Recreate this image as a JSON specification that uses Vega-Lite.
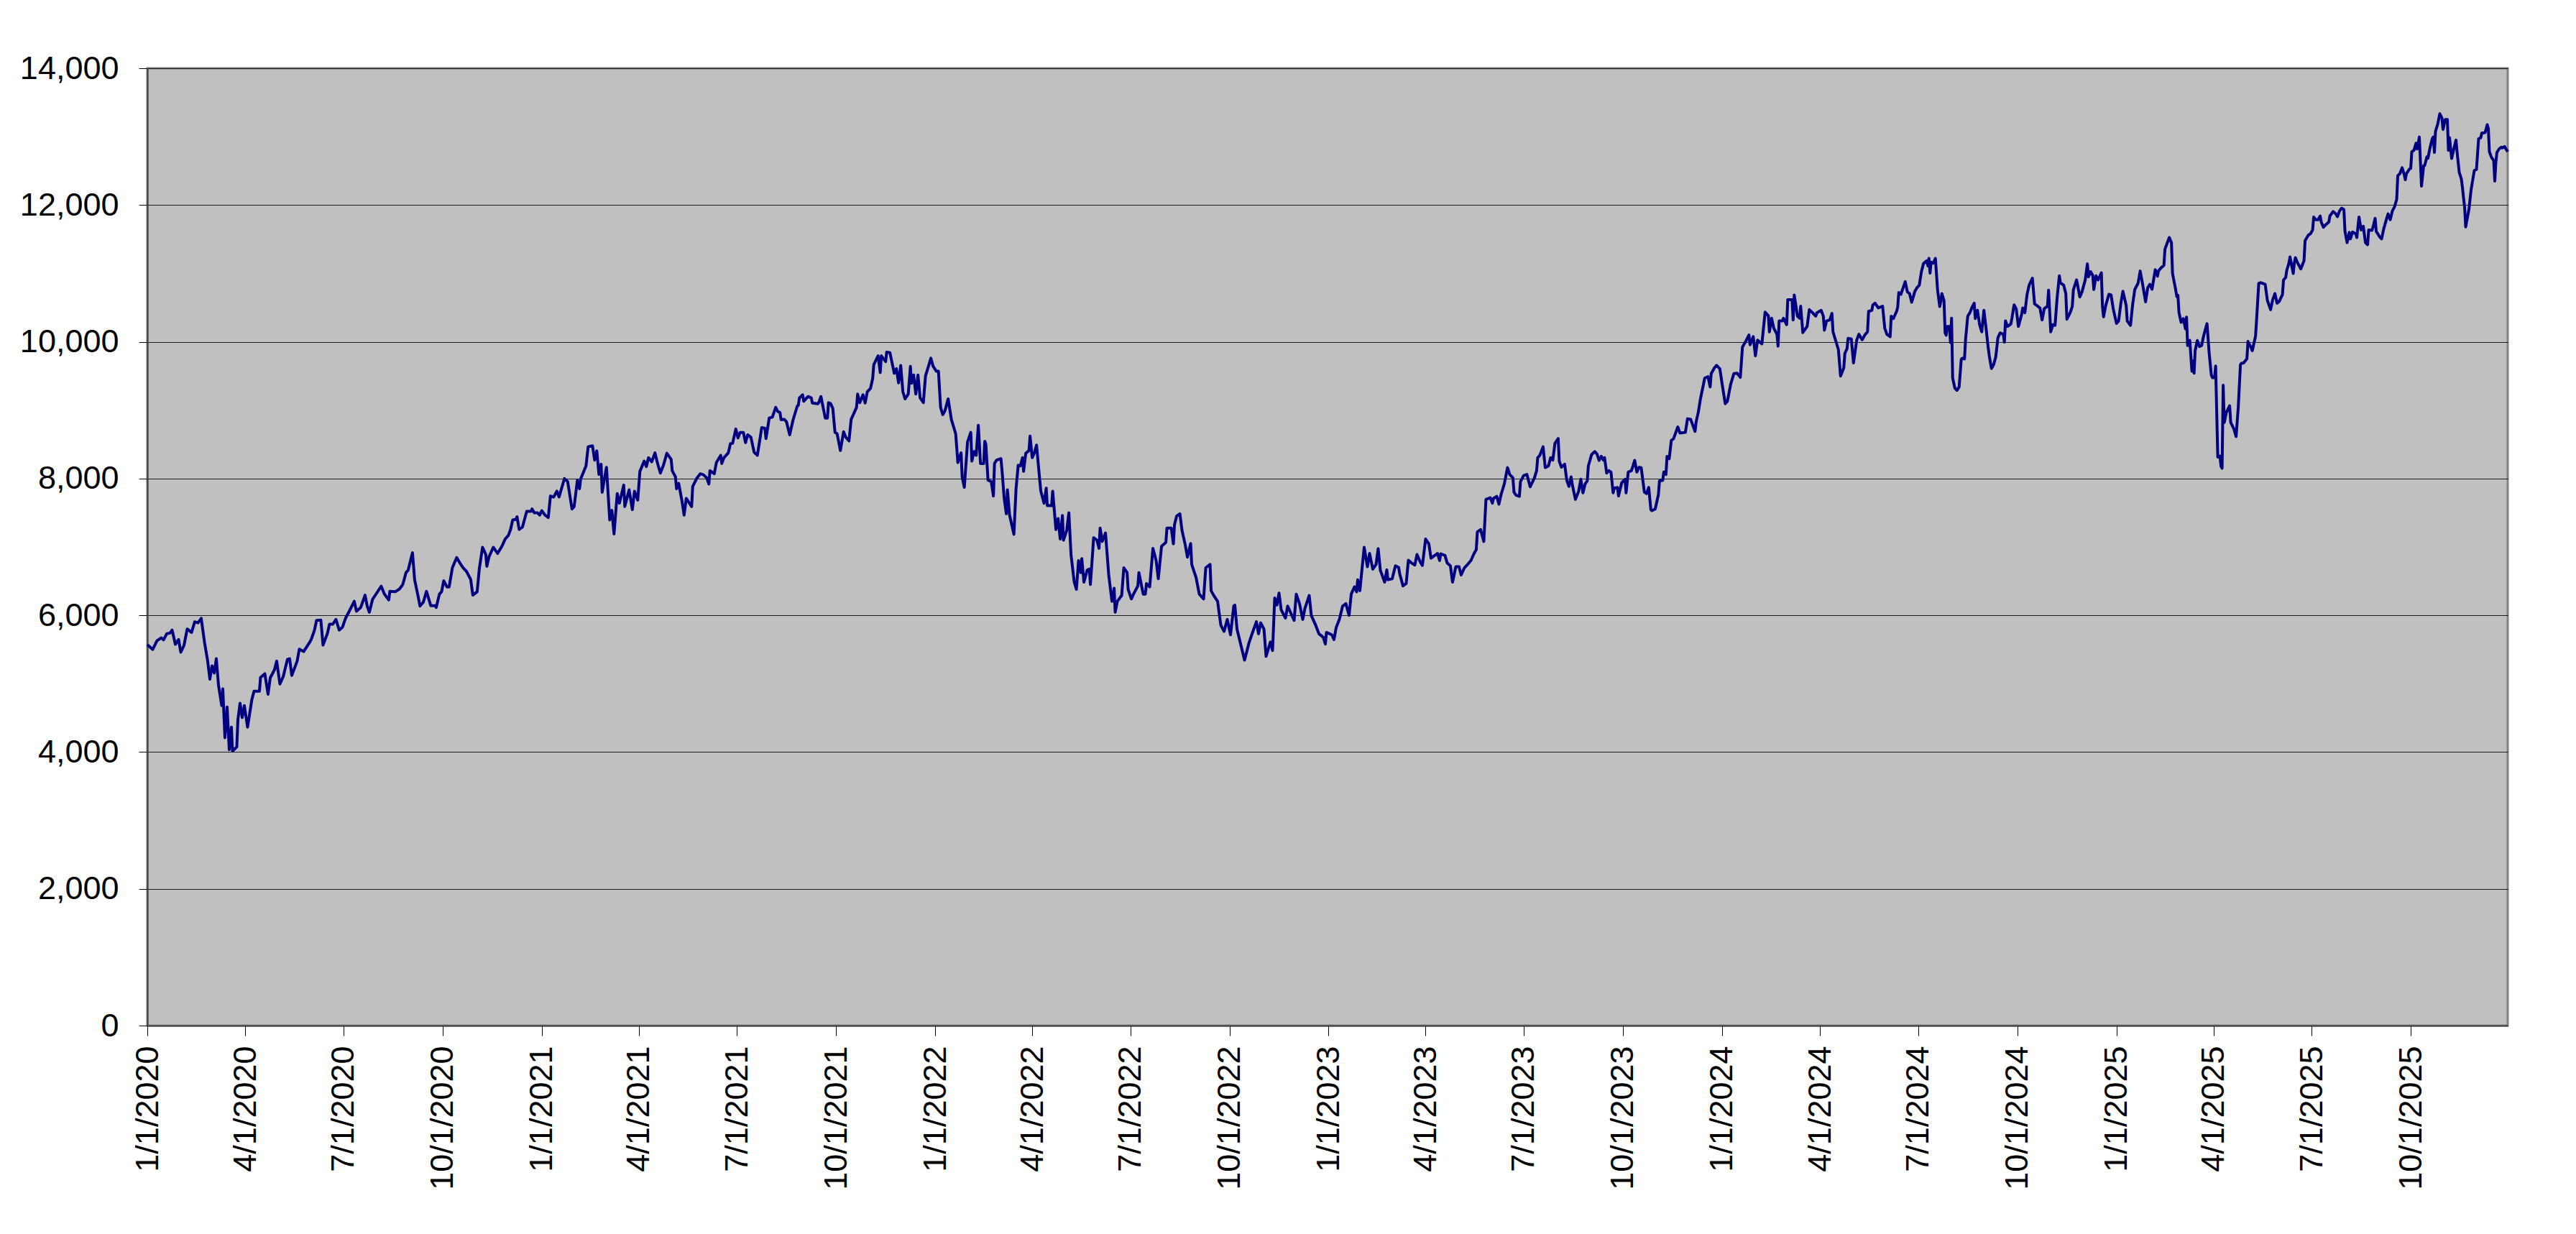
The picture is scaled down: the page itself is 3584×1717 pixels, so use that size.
{
"$schema": "https://vega.github.io/schema/vega-lite/v6.json",
"autosize": {"type": "none"},
"width": 3284,
"height": 1332,
"padding": {"left": 205, "top": 95, "right": 95, "bottom": 290},
"background": "#ffffff",
"config": {"view": {"fill": "#C0C0C0", "stroke": "#808080", "strokeWidth": 3}, "font": "Liberation Sans"},
"data": {"values": [
{"date":"2020-01-01","value":5570},{"date":"2020-01-06","value":5500},{"date":"2020-01-10","value":5630},{"date":"2020-01-14","value":5670},{"date":"2020-01-16","value":5640},{"date":"2020-01-19","value":5730},{"date":"2020-01-22","value":5740},{"date":"2020-01-24","value":5785},{"date":"2020-01-27","value":5575},{"date":"2020-01-30","value":5645},{"date":"2020-02-01","value":5460},{"date":"2020-02-04","value":5560},{"date":"2020-02-07","value":5800},{"date":"2020-02-11","value":5750},{"date":"2020-02-14","value":5905},{"date":"2020-02-17","value":5890},{"date":"2020-02-20","value":5955},{"date":"2020-02-23","value":5610},{"date":"2020-02-26","value":5330},{"date":"2020-02-28","value":5065},{"date":"2020-03-01","value":5260},{"date":"2020-03-03","value":5155},{"date":"2020-03-05","value":5365},{"date":"2020-03-07","value":4980},{"date":"2020-03-10","value":4680},{"date":"2020-03-11","value":4925},{"date":"2020-03-13","value":4210},{"date":"2020-03-15","value":4660},{"date":"2020-03-17","value":4035},{"date":"2020-03-19","value":4365},{"date":"2020-03-20","value":4015},{"date":"2020-03-24","value":4075},{"date":"2020-03-25","value":4470},{"date":"2020-03-27","value":4715},{"date":"2020-03-29","value":4505},{"date":"2020-03-31","value":4680},{"date":"2020-04-03","value":4365},{"date":"2020-04-07","value":4770},{"date":"2020-04-09","value":4890},{"date":"2020-04-14","value":4890},{"date":"2020-04-15","value":5090},{"date":"2020-04-19","value":5145},{"date":"2020-04-22","value":4845},{"date":"2020-04-24","value":5085},{"date":"2020-04-28","value":5205},{"date":"2020-04-30","value":5330},{"date":"2020-05-03","value":4995},{"date":"2020-05-06","value":5100},{"date":"2020-05-10","value":5355},{"date":"2020-05-12","value":5365},{"date":"2020-05-14","value":5120},{"date":"2020-05-19","value":5330},{"date":"2020-05-21","value":5505},{"date":"2020-05-25","value":5470},{"date":"2020-05-30","value":5590},{"date":"2020-06-01","value":5645},{"date":"2020-06-04","value":5780},{"date":"2020-06-06","value":5925},{"date":"2020-06-10","value":5930},{"date":"2020-06-12","value":5565},{"date":"2020-06-16","value":5730},{"date":"2020-06-18","value":5870},{"date":"2020-06-21","value":5870},{"date":"2020-06-24","value":5940},{"date":"2020-06-27","value":5785},{"date":"2020-06-30","value":5825},{"date":"2020-07-03","value":5960},{"date":"2020-07-07","value":6080},{"date":"2020-07-11","value":6205},{"date":"2020-07-13","value":6060},{"date":"2020-07-17","value":6115},{"date":"2020-07-21","value":6295},{"date":"2020-07-23","value":6135},{"date":"2020-07-25","value":6045},{"date":"2020-07-28","value":6235},{"date":"2020-08-01","value":6330},{"date":"2020-08-05","value":6425},{"date":"2020-08-08","value":6310},{"date":"2020-08-12","value":6225},{"date":"2020-08-13","value":6350},{"date":"2020-08-18","value":6345},{"date":"2020-08-22","value":6385},{"date":"2020-08-25","value":6450},{"date":"2020-08-28","value":6625},{"date":"2020-08-30","value":6660},{"date":"2020-09-03","value":6915},{"date":"2020-09-05","value":6520},{"date":"2020-09-08","value":6295},{"date":"2020-09-10","value":6135},{"date":"2020-09-13","value":6190},{"date":"2020-09-16","value":6350},{"date":"2020-09-20","value":6140},{"date":"2020-09-24","value":6140},{"date":"2020-09-25","value":6115},{"date":"2020-09-28","value":6310},{"date":"2020-09-30","value":6345},{"date":"2020-10-02","value":6505},{"date":"2020-10-05","value":6415},{"date":"2020-10-07","value":6415},{"date":"2020-10-10","value":6695},{"date":"2020-10-14","value":6845},{"date":"2020-10-17","value":6765},{"date":"2020-10-20","value":6695},{"date":"2020-10-23","value":6645},{"date":"2020-10-27","value":6525},{"date":"2020-10-29","value":6295},{"date":"2020-11-02","value":6345},{"date":"2020-11-04","value":6680},{"date":"2020-11-07","value":6995},{"date":"2020-11-10","value":6890},{"date":"2020-11-11","value":6715},{"date":"2020-11-13","value":6855},{"date":"2020-11-17","value":6995},{"date":"2020-11-21","value":6905},{"date":"2020-11-25","value":7010},{"date":"2020-11-28","value":7115},{"date":"2020-12-01","value":7170},{"date":"2020-12-03","value":7255},{"date":"2020-12-05","value":7395},{"date":"2020-12-08","value":7405},{"date":"2020-12-09","value":7440},{"date":"2020-12-11","value":7255},{"date":"2020-12-14","value":7290},{"date":"2020-12-18","value":7520},{"date":"2020-12-22","value":7520},{"date":"2020-12-23","value":7555},{"date":"2020-12-25","value":7500},{"date":"2020-12-28","value":7500},{"date":"2020-12-30","value":7465},
{"date":"2021-01-01","value":7530},{"date":"2021-01-04","value":7465},{"date":"2021-01-07","value":7430},{"date":"2021-01-09","value":7745},{"date":"2021-01-12","value":7730},{"date":"2021-01-15","value":7815},{"date":"2021-01-17","value":7730},{"date":"2021-01-22","value":8000},{"date":"2021-01-25","value":7955},{"date":"2021-01-29","value":7555},{"date":"2021-01-31","value":7590},{"date":"2021-02-03","value":7975},{"date":"2021-02-05","value":7850},{"date":"2021-02-06","value":7990},{"date":"2021-02-11","value":8185},{"date":"2021-02-13","value":8465},{"date":"2021-02-17","value":8480},{"date":"2021-02-19","value":8270},{"date":"2021-02-21","value":8405},{"date":"2021-02-23","value":8060},{"date":"2021-02-25","value":8210},{"date":"2021-02-26","value":7800},{"date":"2021-02-28","value":7990},{"date":"2021-03-02","value":8165},{"date":"2021-03-05","value":7395},{"date":"2021-03-07","value":7535},{"date":"2021-03-09","value":7190},{"date":"2021-03-11","value":7590},{"date":"2021-03-12","value":7780},{"date":"2021-03-14","value":7640},{"date":"2021-03-18","value":7905},{"date":"2021-03-19","value":7590},{"date":"2021-03-23","value":7835},{"date":"2021-03-26","value":7545},{"date":"2021-03-28","value":7815},{"date":"2021-03-31","value":7685},{"date":"2021-04-02","value":8105},{"date":"2021-04-06","value":8255},{"date":"2021-04-08","value":8175},{"date":"2021-04-10","value":8305},{"date":"2021-04-13","value":8245},{"date":"2021-04-16","value":8375},{"date":"2021-04-18","value":8245},{"date":"2021-04-21","value":8080},{"date":"2021-04-24","value":8200},{"date":"2021-04-27","value":8370},{"date":"2021-05-01","value":8280},{"date":"2021-05-02","value":8115},{"date":"2021-05-05","value":8025},{"date":"2021-05-06","value":7850},{"date":"2021-05-08","value":7930},{"date":"2021-05-11","value":7675},{"date":"2021-05-13","value":7465},{"date":"2021-05-15","value":7710},{"date":"2021-05-20","value":7590},{"date":"2021-05-21","value":7885},{"date":"2021-05-25","value":8010},{"date":"2021-05-28","value":8070},{"date":"2021-05-31","value":8055},{"date":"2021-06-03","value":8010},{"date":"2021-06-05","value":7920},{"date":"2021-06-06","value":8115},{"date":"2021-06-10","value":8070},{"date":"2021-06-12","value":8235},{"date":"2021-06-16","value":8340},{"date":"2021-06-17","value":8220},{"date":"2021-06-19","value":8305},{"date":"2021-06-23","value":8375},{"date":"2021-06-25","value":8510},{"date":"2021-06-27","value":8515},{"date":"2021-06-30","value":8725},{"date":"2021-07-02","value":8595},{"date":"2021-07-04","value":8675},{"date":"2021-07-07","value":8675},{"date":"2021-07-09","value":8525},{"date":"2021-07-11","value":8640},{"date":"2021-07-14","value":8605},{"date":"2021-07-17","value":8385},{"date":"2021-07-20","value":8340},{"date":"2021-07-23","value":8640},{"date":"2021-07-24","value":8745},{"date":"2021-07-27","value":8735},{"date":"2021-07-28","value":8585},{"date":"2021-07-31","value":8885},{"date":"2021-08-03","value":8900},{"date":"2021-08-06","value":9040},{"date":"2021-08-08","value":8980},{"date":"2021-08-10","value":8965},{"date":"2021-08-11","value":8860},{"date":"2021-08-14","value":8865},{"date":"2021-08-16","value":8830},{"date":"2021-08-19","value":8640},{"date":"2021-08-22","value":8850},{"date":"2021-08-26","value":9060},{"date":"2021-08-27","value":9070},{"date":"2021-08-28","value":9180},{"date":"2021-08-31","value":9225},{"date":"2021-09-01","value":9130},{"date":"2021-09-05","value":9200},{"date":"2021-09-08","value":9180},{"date":"2021-09-09","value":9105},{"date":"2021-09-14","value":9095},{"date":"2021-09-15","value":9110},{"date":"2021-09-17","value":9200},{"date":"2021-09-19","value":9040},{"date":"2021-09-21","value":8885},{"date":"2021-09-23","value":8885},{"date":"2021-09-24","value":9110},{"date":"2021-09-26","value":9095},{"date":"2021-09-28","value":9025},{"date":"2021-09-30","value":8675},{"date":"2021-10-02","value":8655},{"date":"2021-10-05","value":8410},{"date":"2021-10-08","value":8685},{"date":"2021-10-10","value":8605},{"date":"2021-10-13","value":8550},{"date":"2021-10-15","value":8865},{"date":"2021-10-20","value":9040},{"date":"2021-10-21","value":9235},{"date":"2021-10-23","value":9110},{"date":"2021-10-26","value":9225},{"date":"2021-10-28","value":9105},{"date":"2021-10-30","value":9270},{"date":"2021-11-02","value":9320},{"date":"2021-11-04","value":9465},{"date":"2021-11-05","value":9665},{"date":"2021-11-09","value":9795},{"date":"2021-11-11","value":9550},{"date":"2021-11-12","value":9795},{"date":"2021-11-16","value":9710},{"date":"2021-11-17","value":9850},{"date":"2021-11-20","value":9840},{"date":"2021-11-22","value":9690},{"date":"2021-11-24","value":9540},{"date":"2021-11-26","value":9605},{"date":"2021-11-28","value":9400},{"date":"2021-11-30","value":9655},{"date":"2021-12-02","value":9270},{"date":"2021-12-04","value":9165},{"date":"2021-12-07","value":9235},{"date":"2021-12-09","value":9640},{"date":"2021-12-10","value":9395},{"date":"2021-12-12","value":9515},{"date":"2021-12-14","value":9235},{"date":"2021-12-16","value":9515},{"date":"2021-12-18","value":9180},{"date":"2021-12-21","value":9110},{"date":"2021-12-23","value":9500},{"date":"2021-12-26","value":9655},{"date":"2021-12-28","value":9760},{"date":"2021-12-30","value":9645},
{"date":"2022-01-02","value":9570},{"date":"2022-01-04","value":9570},{"date":"2022-01-06","value":9040},{"date":"2022-01-08","value":8935},{"date":"2022-01-10","value":8990},{"date":"2022-01-13","value":9165},{"date":"2022-01-16","value":8865},{"date":"2022-01-20","value":8655},{"date":"2022-01-22","value":8235},{"date":"2022-01-25","value":8375},{"date":"2022-01-26","value":8025},{"date":"2022-01-28","value":7870},{"date":"2022-01-31","value":8535},{"date":"2022-02-03","value":8675},{"date":"2022-02-04","value":8255},{"date":"2022-02-06","value":8395},{"date":"2022-02-08","value":8340},{"date":"2022-02-10","value":8780},{"date":"2022-02-12","value":8220},{"date":"2022-02-15","value":8220},{"date":"2022-02-16","value":8545},{"date":"2022-02-17","value":8500},{"date":"2022-02-19","value":7975},{"date":"2022-02-22","value":7955},{"date":"2022-02-24","value":7745},{"date":"2022-02-25","value":8220},{"date":"2022-02-27","value":8270},{"date":"2022-03-03","value":8290},{"date":"2022-03-04","value":8115},{"date":"2022-03-06","value":7710},{"date":"2022-03-08","value":7485},{"date":"2022-03-09","value":7835},{"date":"2022-03-11","value":7465},{"date":"2022-03-15","value":7185},{"date":"2022-03-17","value":7850},{"date":"2022-03-19","value":8195},{"date":"2022-03-21","value":8185},{"date":"2022-03-23","value":8305},{"date":"2022-03-24","value":8105},{"date":"2022-03-26","value":8370},{"date":"2022-03-29","value":8410},{"date":"2022-03-30","value":8620},{"date":"2022-04-01","value":8305},{"date":"2022-04-03","value":8375},{"date":"2022-04-05","value":8490},{"date":"2022-04-08","value":7975},{"date":"2022-04-09","value":7815},{"date":"2022-04-12","value":7640},{"date":"2022-04-14","value":7860},{"date":"2022-04-15","value":7605},{"date":"2022-04-19","value":7605},{"date":"2022-04-20","value":7815},{"date":"2022-04-23","value":7255},{"date":"2022-04-25","value":7415},{"date":"2022-04-27","value":7115},{"date":"2022-04-29","value":7460},{"date":"2022-04-30","value":7100},{"date":"2022-05-03","value":7240},{"date":"2022-05-05","value":7500},{"date":"2022-05-07","value":6890},{"date":"2022-05-10","value":6485},{"date":"2022-05-12","value":6380},{"date":"2022-05-14","value":6800},{"date":"2022-05-16","value":6625},{"date":"2022-05-17","value":6830},{"date":"2022-05-19","value":6485},{"date":"2022-05-22","value":6660},{"date":"2022-05-24","value":6675},{"date":"2022-05-25","value":6450},{"date":"2022-05-28","value":7135},{"date":"2022-05-31","value":7100},{"date":"2022-06-02","value":6980},{"date":"2022-06-03","value":7275},{"date":"2022-06-05","value":7080},{"date":"2022-06-08","value":7205},{"date":"2022-06-11","value":6590},{"date":"2022-06-14","value":6205},{"date":"2022-06-16","value":6395},{"date":"2022-06-17","value":6045},{"date":"2022-06-19","value":6205},{"date":"2022-06-23","value":6290},{"date":"2022-06-25","value":6695},{"date":"2022-06-28","value":6625},{"date":"2022-06-29","value":6380},{"date":"2022-07-02","value":6240},{"date":"2022-07-04","value":6310},{"date":"2022-07-08","value":6430},{"date":"2022-07-09","value":6625},{"date":"2022-07-13","value":6310},{"date":"2022-07-15","value":6310},{"date":"2022-07-16","value":6465},{"date":"2022-07-19","value":6415},{"date":"2022-07-22","value":6980},{"date":"2022-07-25","value":6800},{"date":"2022-07-27","value":6535},{"date":"2022-07-30","value":7010},{"date":"2022-08-03","value":7065},{"date":"2022-08-04","value":7275},{"date":"2022-08-08","value":7275},{"date":"2022-08-10","value":7045},{"date":"2022-08-11","value":7325},{"date":"2022-08-13","value":7450},{"date":"2022-08-16","value":7485},{"date":"2022-08-18","value":7240},{"date":"2022-08-21","value":7030},{"date":"2022-08-23","value":6850},{"date":"2022-08-26","value":7050},{"date":"2022-08-27","value":6745},{"date":"2022-08-31","value":6555},{"date":"2022-09-03","value":6310},{"date":"2022-09-07","value":6240},{"date":"2022-09-09","value":6695},{"date":"2022-09-13","value":6745},{"date":"2022-09-14","value":6360},{"date":"2022-09-17","value":6275},{"date":"2022-09-20","value":6205},{"date":"2022-09-23","value":5855},{"date":"2022-09-26","value":5765},{"date":"2022-09-29","value":5940},{"date":"2022-10-02","value":5715},{"date":"2022-10-05","value":6135},{"date":"2022-10-06","value":6150},{"date":"2022-10-08","value":5800},{"date":"2022-10-12","value":5540},{"date":"2022-10-15","value":5345},{"date":"2022-10-19","value":5590},{"date":"2022-10-22","value":5730},{"date":"2022-10-26","value":5905},{"date":"2022-10-28","value":5730},{"date":"2022-10-30","value":5890},{"date":"2022-11-02","value":5800},{"date":"2022-11-04","value":5400},{"date":"2022-11-08","value":5610},{"date":"2022-11-10","value":5485},{"date":"2022-11-12","value":6255},{"date":"2022-11-14","value":6150},{"date":"2022-11-16","value":6325},{"date":"2022-11-18","value":6080},{"date":"2022-11-22","value":5960},{"date":"2022-11-24","value":6135},{"date":"2022-11-30","value":5925},{"date":"2022-12-02","value":6310},{"date":"2022-12-05","value":6170},{"date":"2022-12-08","value":5940},{"date":"2022-12-10","value":6100},{"date":"2022-12-14","value":6290},{"date":"2022-12-16","value":5995},{"date":"2022-12-20","value":5855},{"date":"2022-12-23","value":5730},{"date":"2022-12-27","value":5680},{"date":"2022-12-29","value":5580},{"date":"2022-12-30","value":5750},
{"date":"2023-01-04","value":5715},{"date":"2023-01-06","value":5645},{"date":"2023-01-08","value":5820},{"date":"2023-01-11","value":5940},{"date":"2023-01-14","value":6135},{"date":"2023-01-17","value":6170},{"date":"2023-01-20","value":6000},{"date":"2023-01-22","value":6310},{"date":"2023-01-25","value":6415},{"date":"2023-01-27","value":6345},{"date":"2023-01-28","value":6520},{"date":"2023-01-30","value":6360},{"date":"2023-02-03","value":6995},{"date":"2023-02-06","value":6710},{"date":"2023-02-08","value":6905},{"date":"2023-02-11","value":6675},{"date":"2023-02-14","value":6745},{"date":"2023-02-16","value":6975},{"date":"2023-02-18","value":6660},{"date":"2023-02-22","value":6485},{"date":"2023-02-24","value":6665},{"date":"2023-02-25","value":6520},{"date":"2023-03-01","value":6535},{"date":"2023-03-04","value":6725},{"date":"2023-03-07","value":6700},{"date":"2023-03-08","value":6605},{"date":"2023-03-11","value":6430},{"date":"2023-03-14","value":6465},{"date":"2023-03-16","value":6805},{"date":"2023-03-19","value":6765},{"date":"2023-03-22","value":6735},{"date":"2023-03-24","value":6890},{"date":"2023-03-27","value":6780},{"date":"2023-03-29","value":6730},{"date":"2023-04-01","value":7115},{"date":"2023-04-04","value":7045},{"date":"2023-04-06","value":6835},{"date":"2023-04-09","value":6870},{"date":"2023-04-12","value":6905},{"date":"2023-04-14","value":6800},{"date":"2023-04-15","value":6900},{"date":"2023-04-19","value":6875},{"date":"2023-04-21","value":6765},{"date":"2023-04-24","value":6725},{"date":"2023-04-26","value":6485},{"date":"2023-04-29","value":6710},{"date":"2023-05-02","value":6710},{"date":"2023-05-04","value":6590},{"date":"2023-05-07","value":6695},{"date":"2023-05-10","value":6745},{"date":"2023-05-13","value":6800},{"date":"2023-05-16","value":6905},{"date":"2023-05-18","value":6960},{"date":"2023-05-19","value":7220},{"date":"2023-05-22","value":7255},{"date":"2023-05-25","value":7080},{"date":"2023-05-27","value":7695},{"date":"2023-05-31","value":7720},{"date":"2023-06-02","value":7640},{"date":"2023-06-03","value":7710},{"date":"2023-06-06","value":7740},{"date":"2023-06-08","value":7625},{"date":"2023-06-10","value":7765},{"date":"2023-06-13","value":7920},{"date":"2023-06-16","value":8160},{"date":"2023-06-18","value":8060},{"date":"2023-06-21","value":8010},{"date":"2023-06-22","value":7800},{"date":"2023-06-24","value":7755},{"date":"2023-06-27","value":7740},{"date":"2023-06-28","value":7955},{"date":"2023-07-01","value":8045},{"date":"2023-07-04","value":8060},{"date":"2023-07-07","value":7880},{"date":"2023-07-11","value":8010},{"date":"2023-07-13","value":8115},{"date":"2023-07-14","value":8305},{"date":"2023-07-16","value":8340},{"date":"2023-07-19","value":8465},{"date":"2023-07-21","value":8160},{"date":"2023-07-24","value":8185},{"date":"2023-07-26","value":8305},{"date":"2023-07-28","value":8270},{"date":"2023-07-30","value":8515},{"date":"2023-08-02","value":8585},{"date":"2023-08-03","value":8255},{"date":"2023-08-05","value":8165},{"date":"2023-08-08","value":8210},{"date":"2023-08-10","value":7975},{"date":"2023-08-12","value":7885},{"date":"2023-08-14","value":8025},{"date":"2023-08-15","value":7920},{"date":"2023-08-18","value":7695},{"date":"2023-08-21","value":7815},{"date":"2023-08-23","value":7990},{"date":"2023-08-25","value":7790},{"date":"2023-08-27","value":7920},{"date":"2023-08-29","value":7965},{"date":"2023-08-30","value":8185},{"date":"2023-09-02","value":8350},{"date":"2023-09-05","value":8395},{"date":"2023-09-07","value":8360},{"date":"2023-09-09","value":8265},{"date":"2023-09-11","value":8325},{"date":"2023-09-13","value":8270},{"date":"2023-09-14","value":8305},{"date":"2023-09-16","value":8080},{"date":"2023-09-18","value":8115},{"date":"2023-09-20","value":8095},{"date":"2023-09-22","value":7790},{"date":"2023-09-23","value":7860},{"date":"2023-09-26","value":7870},{"date":"2023-09-27","value":7745},{"date":"2023-09-30","value":7940},{"date":"2023-10-03","value":7990},{"date":"2023-10-04","value":7790},{"date":"2023-10-06","value":8095},{"date":"2023-10-09","value":8115},{"date":"2023-10-12","value":8265},{"date":"2023-10-14","value":8095},{"date":"2023-10-16","value":8165},{"date":"2023-10-18","value":8160},{"date":"2023-10-21","value":7800},{"date":"2023-10-23","value":7780},{"date":"2023-10-25","value":7870},{"date":"2023-10-27","value":7545},{"date":"2023-10-28","value":7530},{"date":"2023-10-31","value":7555},{"date":"2023-11-03","value":7765},{"date":"2023-11-04","value":7965},{"date":"2023-11-07","value":7975},{"date":"2023-11-08","value":8095},{"date":"2023-11-10","value":8060},{"date":"2023-11-11","value":8325},{"date":"2023-11-13","value":8290},{"date":"2023-11-15","value":8560},{"date":"2023-11-17","value":8580},{"date":"2023-11-21","value":8755},{"date":"2023-11-23","value":8665},{"date":"2023-11-28","value":8675},{"date":"2023-11-30","value":8875},{"date":"2023-12-03","value":8865},{"date":"2023-12-07","value":8690},{"date":"2023-12-08","value":8830},{"date":"2023-12-10","value":8970},{"date":"2023-12-12","value":9165},{"date":"2023-12-16","value":9470},{"date":"2023-12-19","value":9490},{"date":"2023-12-21","value":9340},{"date":"2023-12-22","value":9535},{"date":"2023-12-25","value":9620},{"date":"2023-12-27","value":9655},{"date":"2023-12-30","value":9605},
{"date":"2024-01-01","value":9395},{"date":"2024-01-04","value":9095},{"date":"2024-01-06","value":9130},{"date":"2024-01-09","value":9375},{"date":"2024-01-12","value":9535},{"date":"2024-01-15","value":9540},{"date":"2024-01-18","value":9480},{"date":"2024-01-20","value":9925},{"date":"2024-01-23","value":10005},{"date":"2024-01-26","value":10100},{"date":"2024-01-27","value":9955},{"date":"2024-01-30","value":10075},{"date":"2024-02-01","value":9795},{"date":"2024-02-03","value":10025},{"date":"2024-02-07","value":9970},{"date":"2024-02-10","value":10435},{"date":"2024-02-13","value":10380},{"date":"2024-02-14","value":10145},{"date":"2024-02-16","value":10345},{"date":"2024-02-18","value":10200},{"date":"2024-02-21","value":10110},{"date":"2024-02-22","value":9935},{"date":"2024-02-23","value":10305},{"date":"2024-02-26","value":10305},{"date":"2024-02-27","value":10345},{"date":"2024-03-01","value":10250},{"date":"2024-03-02","value":10615},{"date":"2024-03-06","value":10615},{"date":"2024-03-07","value":10320},{"date":"2024-03-08","value":10685},{"date":"2024-03-11","value":10375},{"date":"2024-03-13","value":10345},{"date":"2024-03-14","value":10520},{"date":"2024-03-16","value":10135},{"date":"2024-03-20","value":10225},{"date":"2024-03-22","value":10470},{"date":"2024-03-25","value":10425},{"date":"2024-03-28","value":10375},{"date":"2024-03-29","value":10425},{"date":"2024-04-02","value":10460},{"date":"2024-04-04","value":10375},{"date":"2024-04-05","value":10170},{"date":"2024-04-07","value":10305},{"date":"2024-04-10","value":10320},{"date":"2024-04-12","value":10415},{"date":"2024-04-13","value":10145},{"date":"2024-04-16","value":9990},{"date":"2024-04-18","value":9885},{"date":"2024-04-20","value":9500},{"date":"2024-04-23","value":9620},{"date":"2024-04-24","value":9830},{"date":"2024-04-26","value":9900},{"date":"2024-04-27","value":10050},{"date":"2024-04-30","value":10040},{"date":"2024-05-02","value":9690},{"date":"2024-05-05","value":10025},{"date":"2024-05-07","value":10110},{"date":"2024-05-10","value":10030},{"date":"2024-05-13","value":10110},{"date":"2024-05-15","value":10145},{"date":"2024-05-16","value":10445},{"date":"2024-05-19","value":10460},{"date":"2024-05-20","value":10540},{"date":"2024-05-22","value":10565},{"date":"2024-05-25","value":10495},{"date":"2024-05-29","value":10520},{"date":"2024-05-31","value":10200},{"date":"2024-06-02","value":10110},{"date":"2024-06-05","value":10075},{"date":"2024-06-06","value":10375},{"date":"2024-06-08","value":10340},{"date":"2024-06-11","value":10445},{"date":"2024-06-12","value":10505},{"date":"2024-06-13","value":10720},{"date":"2024-06-15","value":10695},{"date":"2024-06-19","value":10880},{"date":"2024-06-21","value":10730},{"date":"2024-06-23","value":10705},{"date":"2024-06-25","value":10580},{"date":"2024-06-28","value":10740},{"date":"2024-06-30","value":10795},{"date":"2024-07-02","value":10825},{"date":"2024-07-04","value":11025},{"date":"2024-07-06","value":11145},{"date":"2024-07-09","value":11185},{"date":"2024-07-10","value":11110},{"date":"2024-07-11","value":11220},{"date":"2024-07-12","value":11005},{"date":"2024-07-13","value":11165},{"date":"2024-07-15","value":11150},{"date":"2024-07-17","value":11220},{"date":"2024-07-19","value":10760},{"date":"2024-07-21","value":10515},{"date":"2024-07-22","value":10585},{"date":"2024-07-23","value":10705},{"date":"2024-07-25","value":10600},{"date":"2024-07-26","value":10130},{"date":"2024-07-27","value":10095},{"date":"2024-07-28","value":10225},{"date":"2024-07-30","value":10225},{"date":"2024-07-31","value":9990},{"date":"2024-08-01","value":10345},{"date":"2024-08-02","value":9470},{"date":"2024-08-04","value":9325},{"date":"2024-08-06","value":9290},{"date":"2024-08-08","value":9340},{"date":"2024-08-10","value":9745},{"date":"2024-08-11","value":9760},{"date":"2024-08-13","value":9750},{"date":"2024-08-14","value":10040},{"date":"2024-08-16","value":10375},{"date":"2024-08-18","value":10425},{"date":"2024-08-20","value":10505},{"date":"2024-08-22","value":10565},{"date":"2024-08-23","value":10340},{"date":"2024-08-25","value":10460},{"date":"2024-08-27","value":10250},{"date":"2024-08-29","value":10145},{"date":"2024-08-31","value":10460},{"date":"2024-09-02","value":10200},{"date":"2024-09-04","value":9910},{"date":"2024-09-05","value":9795},{"date":"2024-09-07","value":9610},{"date":"2024-09-09","value":9665},{"date":"2024-09-11","value":9780},{"date":"2024-09-13","value":10060},{"date":"2024-09-15","value":10130},{"date":"2024-09-18","value":10110},{"date":"2024-09-19","value":9995},{"date":"2024-09-20","value":10305},{"date":"2024-09-22","value":10225},{"date":"2024-09-25","value":10260},{"date":"2024-09-26","value":10345},{"date":"2024-09-28","value":10540},{"date":"2024-09-30","value":10480},{"date":"2024-10-02","value":10225},{"date":"2024-10-05","value":10400},{"date":"2024-10-06","value":10495},{"date":"2024-10-08","value":10425},{"date":"2024-10-10","value":10690},{"date":"2024-10-12","value":10830},{"date":"2024-10-15","value":10930},{"date":"2024-10-17","value":10555},{"date":"2024-10-20","value":10520},{"date":"2024-10-22","value":10495},{"date":"2024-10-24","value":10320},{"date":"2024-10-26","value":10485},{"date":"2024-10-29","value":10520},{"date":"2024-10-30","value":10755},{"date":"2024-11-01","value":10145},{"date":"2024-11-03","value":10250},{"date":"2024-11-05","value":10240},{"date":"2024-11-07","value":10655},{"date":"2024-11-09","value":10965},{"date":"2024-11-10","value":10860},{"date":"2024-11-13","value":10830},{"date":"2024-11-15","value":10705},{"date":"2024-11-16","value":10330},{"date":"2024-11-19","value":10425},{"date":"2024-11-21","value":10515},{"date":"2024-11-22","value":10760},{"date":"2024-11-25","value":10905},{"date":"2024-11-28","value":10655},{"date":"2024-11-30","value":10730},{"date":"2024-12-03","value":10905},{"date":"2024-12-05","value":11140},{"date":"2024-12-06","value":10950},{"date":"2024-12-08","value":11025},{"date":"2024-12-10","value":10970},{"date":"2024-12-11","value":10765},{"date":"2024-12-13","value":10965},{"date":"2024-12-15","value":10905},{"date":"2024-12-18","value":11010},{"date":"2024-12-19","value":10515},{"date":"2024-12-20","value":10365},{"date":"2024-12-22","value":10530},{"date":"2024-12-25","value":10695},{"date":"2024-12-27","value":10685},{"date":"2024-12-29","value":10480},
{"date":"2025-01-01","value":10270},{"date":"2025-01-03","value":10305},{"date":"2025-01-05","value":10555},{"date":"2025-01-07","value":10740},{"date":"2025-01-10","value":10530},{"date":"2025-01-11","value":10305},{"date":"2025-01-14","value":10240},{"date":"2025-01-16","value":10545},{"date":"2025-01-18","value":10765},{"date":"2025-01-21","value":10855},{"date":"2025-01-23","value":11035},{"date":"2025-01-25","value":10865},{"date":"2025-01-28","value":10585},{"date":"2025-01-30","value":10790},{"date":"2025-02-01","value":10840},{"date":"2025-02-03","value":10770},{"date":"2025-02-06","value":11055},{"date":"2025-02-08","value":10960},{"date":"2025-02-09","value":11035},{"date":"2025-02-11","value":11075},{"date":"2025-02-14","value":11120},{"date":"2025-02-15","value":11355},{"date":"2025-02-17","value":11440},{"date":"2025-02-19","value":11525},{"date":"2025-02-21","value":11450},{"date":"2025-02-22","value":11000},{"date":"2025-02-25","value":10755},{"date":"2025-02-26","value":10660},{"date":"2025-02-27","value":10680},{"date":"2025-02-28","value":10425},{"date":"2025-03-02","value":10285},{"date":"2025-03-04","value":10340},{"date":"2025-03-06","value":10190},{"date":"2025-03-07","value":10360},{"date":"2025-03-08","value":9945},{"date":"2025-03-10","value":10020},{"date":"2025-03-12","value":9570},{"date":"2025-03-13","value":9720},{"date":"2025-03-14","value":9540},{"date":"2025-03-15","value":9870},{"date":"2025-03-17","value":10020},{"date":"2025-03-19","value":9930},{"date":"2025-03-21","value":9945},{"date":"2025-03-23","value":10095},{"date":"2025-03-25","value":10210},{"date":"2025-03-26","value":10265},{"date":"2025-03-28","value":9835},{"date":"2025-03-30","value":9515},{"date":"2025-03-31","value":9475},{"date":"2025-04-02","value":9475},{"date":"2025-04-03","value":9645},{"date":"2025-04-04","value":8970},{"date":"2025-04-05","value":8315},{"date":"2025-04-07","value":8330},{"date":"2025-04-08","value":8180},{"date":"2025-04-09","value":8150},{"date":"2025-04-10","value":9365},{"date":"2025-04-11","value":8820},{"date":"2025-04-13","value":8970},{"date":"2025-04-16","value":9065},{"date":"2025-04-17","value":8820},{"date":"2025-04-20","value":8725},{"date":"2025-04-22","value":8615},{"date":"2025-04-24","value":9045},{"date":"2025-04-26","value":9665},{"date":"2025-04-27","value":9685},{"date":"2025-04-29","value":9690},{"date":"2025-05-02","value":9750},{"date":"2025-05-03","value":10005},{"date":"2025-05-06","value":9910},{"date":"2025-05-07","value":9870},{"date":"2025-05-10","value":10080},{"date":"2025-05-11","value":10320},{"date":"2025-05-13","value":10855},{"date":"2025-05-15","value":10865},{"date":"2025-05-19","value":10840},{"date":"2025-05-21","value":10605},{"date":"2025-05-24","value":10470},{"date":"2025-05-26","value":10620},{"date":"2025-05-28","value":10705},{"date":"2025-05-30","value":10565},{"date":"2025-06-01","value":10590},{"date":"2025-06-04","value":10690},{"date":"2025-06-05","value":10905},{"date":"2025-06-07","value":10940},{"date":"2025-06-08","value":11045},{"date":"2025-06-10","value":11150},{"date":"2025-06-11","value":11240},{"date":"2025-06-14","value":11000},{"date":"2025-06-15","value":11150},{"date":"2025-06-16","value":11230},{"date":"2025-06-18","value":11155},{"date":"2025-06-21","value":11065},{"date":"2025-06-24","value":11185},{"date":"2025-06-25","value":11480},{"date":"2025-06-28","value":11560},{"date":"2025-06-30","value":11580},{"date":"2025-07-02","value":11635},{"date":"2025-07-03","value":11825},{"date":"2025-07-05","value":11785},{"date":"2025-07-07","value":11785},{"date":"2025-07-09","value":11840},{"date":"2025-07-10","value":11750},{"date":"2025-07-12","value":11675},{"date":"2025-07-14","value":11710},{"date":"2025-07-17","value":11750},{"date":"2025-07-18","value":11840},{"date":"2025-07-21","value":11905},{"date":"2025-07-23","value":11880},{"date":"2025-07-25","value":11830},{"date":"2025-07-27","value":11915},{"date":"2025-07-29","value":11955},{"date":"2025-07-31","value":11935},{"date":"2025-08-01","value":11615},{"date":"2025-08-03","value":11450},{"date":"2025-08-05","value":11600},{"date":"2025-08-06","value":11505},{"date":"2025-08-08","value":11605},{"date":"2025-08-11","value":11580},{"date":"2025-08-12","value":11525},{"date":"2025-08-14","value":11825},{"date":"2025-08-16","value":11635},{"date":"2025-08-18","value":11690},{"date":"2025-08-20","value":11450},{"date":"2025-08-22","value":11420},{"date":"2025-08-23","value":11635},{"date":"2025-08-26","value":11630},{"date":"2025-08-27","value":11675},{"date":"2025-08-29","value":11805},{"date":"2025-08-30","value":11615},{"date":"2025-09-02","value":11540},{"date":"2025-09-04","value":11505},{"date":"2025-09-06","value":11655},{"date":"2025-09-08","value":11765},{"date":"2025-09-10","value":11870},{"date":"2025-09-12","value":11785},{"date":"2025-09-14","value":11915},{"date":"2025-09-16","value":11975},{"date":"2025-09-18","value":12085},{"date":"2025-09-19","value":12430},{"date":"2025-09-21","value":12460},{"date":"2025-09-23","value":12545},{"date":"2025-09-25","value":12445},{"date":"2025-09-26","value":12370},{"date":"2025-09-27","value":12460},{"date":"2025-09-30","value":12530},{"date":"2025-10-01","value":12535},{"date":"2025-10-02","value":12780},{"date":"2025-10-04","value":12800},{"date":"2025-10-06","value":12905},{"date":"2025-10-07","value":12820},{"date":"2025-10-09","value":12995},{"date":"2025-10-11","value":12275},{"date":"2025-10-13","value":12575},{"date":"2025-10-14","value":12580},{"date":"2025-10-16","value":12705},{"date":"2025-10-17","value":12685},{"date":"2025-10-19","value":12845},{"date":"2025-10-21","value":12970},{"date":"2025-10-22","value":12995},{"date":"2025-10-23","value":12770},{"date":"2025-10-24","value":13080},{"date":"2025-10-26","value":13180},{"date":"2025-10-28","value":13335},{"date":"2025-10-30","value":13270},{"date":"2025-10-31","value":13105},{"date":"2025-11-02","value":13250},{"date":"2025-11-04","value":13250},{"date":"2025-11-05","value":12800},{"date":"2025-11-06","value":12985},{"date":"2025-11-08","value":12680},{"date":"2025-11-10","value":12820},{"date":"2025-11-12","value":12950},{"date":"2025-11-13","value":12780},{"date":"2025-11-15","value":12480},{"date":"2025-11-17","value":12380},{"date":"2025-11-18","value":12255},{"date":"2025-11-19","value":12105},{"date":"2025-11-20","value":11975},{"date":"2025-11-21","value":11680},{"date":"2025-11-24","value":11935},{"date":"2025-11-26","value":12220},{"date":"2025-11-29","value":12505},{"date":"2025-12-01","value":12520},{"date":"2025-12-03","value":12970},{"date":"2025-12-05","value":12985},{"date":"2025-12-06","value":13055},{"date":"2025-12-08","value":13055},{"date":"2025-12-09","value":13060},{"date":"2025-12-11","value":13175},{"date":"2025-12-12","value":13120},{"date":"2025-12-13","value":12780},{"date":"2025-12-15","value":12695},{"date":"2025-12-17","value":12650},{"date":"2025-12-18","value":12350},{"date":"2025-12-19","value":12630},{"date":"2025-12-20","value":12770},{"date":"2025-12-22","value":12820},{"date":"2025-12-24","value":12845},{"date":"2025-12-25","value":12835},{"date":"2025-12-27","value":12855},{"date":"2025-12-29","value":12805},{"date":"2025-12-30","value":12780}
]},
"mark": {"type": "line", "color": "#000080", "strokeWidth": 4, "strokeJoin": "round"},
"encoding": {
"x": {"field": "date", "type": "temporal",
"scale": {"type": "utc", "nice": false, "domain": [{"year": 2020, "month": 1, "date": 1, "utc": true}, {"year": 2025, "month": 12, "date": 30, "utc": true}]},
"axis": {"title": null, "format": "%-m/%-d/%Y", "tickCount": {"interval": "month", "step": 3}, "labelAngle": -90, "labelFont": "Liberation Sans", "labelFontSize": 45, "labelColor": "#000000", "labelPadding": 14, "labelLimit": 0, "labelOverlap": false, "labelFlush": false, "tickSize": 14, "tickColor": "#000000", "tickWidth": 1, "grid": false, "domainColor": "#404040", "domainWidth": 2}},
"y": {"field": "value", "type": "quantitative",
"scale": {"domain": [0, 14000], "nice": false},
"axis": {"title": null, "values": [0, 2000, 4000, 6000, 8000, 10000, 12000, 14000], "format": ",.0f", "labelFont": "Liberation Sans", "labelFontSize": 45, "labelColor": "#000000", "labelPadding": 28, "labelLimit": 0, "tickSize": 12, "tickColor": "#000000", "tickWidth": 1, "grid": true, "gridColor": "#000000", "gridWidth": 1, "gridOpacity": 0.85, "domainColor": "#404040", "domainWidth": 2}}
}
}
